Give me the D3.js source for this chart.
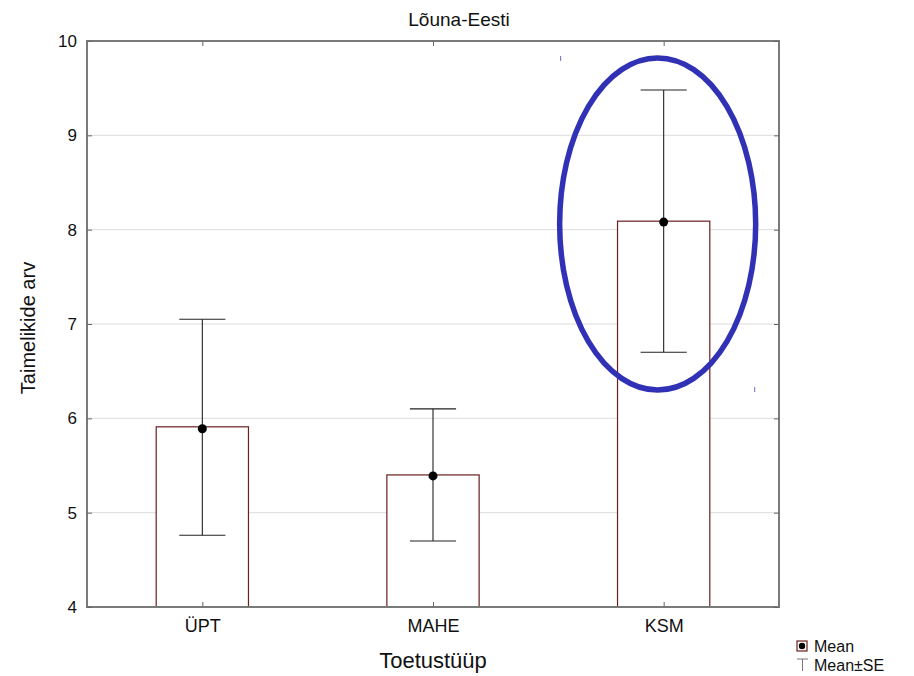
<!DOCTYPE html>
<html>
<head>
<meta charset="utf-8">
<script src="https://cdn.jsdelivr.net/npm/d3@7"></script>
<style>
  html, body { margin: 0; padding: 0; background: #fff; }
  svg { display: block; font-family: "Liberation Sans", Arial, sans-serif; }
</style>
</head>
<body>
<svg id="chart" width="914" height="676"></svg>
<script>
const title = "Lõuna-Eesti";
const categories = ["ÜPT", "MAHE", "KSM"];
const barValues = [5.91, 5.40, 8.09];
const meanValues = [5.89, 5.39, 8.08];
const seUpper = [7.05, 6.10, 9.48];
const seLower = [4.76, 4.70, 6.70];
const yTicks = [4, 5, 6, 7, 8, 9, 10];
const xTitle = "Toetustüüp";
const yTitle = "Taimelikide arv";
const legendLabels = ["Mean", "Mean±SE"];
// highlighted region (annotation ellipse) in data units
const highlightCategory = "KSM";
const highlightRange = [6.3, 9.82];

const svg = d3.select("#chart");
const L = 87, R = 779, T = 41, B = 607;

const x = d3.scalePoint().domain(categories).range([L, R]).padding(0.5);
const y = d3.scaleLinear().domain([4, 10]).range([B, T]);
const step = x.step();
const barW = step * 0.4;
const capW = step * 0.2;

// gridlines
svg.append("g").selectAll("line").data(yTicks.filter(d => d > 4 && d < 10)).join("line")
  .attr("x1", L).attr("x2", R).attr("y1", d => y(d)).attr("y2", d => y(d))
  .attr("stroke", "#dcdcdc").attr("stroke-width", 1);

// bars
svg.append("g").selectAll("rect").data(categories).join("rect")
  .attr("x", d => x(d) - barW / 2)
  .attr("width", barW)
  .attr("y", (d, i) => y(barValues[i]))
  .attr("height", (d, i) => y(4) - y(barValues[i]))
  .attr("fill", "#fff").attr("stroke", "#6a1e1e").attr("stroke-width", 1.2);

// whiskers
const wg = svg.append("g").attr("stroke", "#222").attr("stroke-width", 1.1);
categories.forEach((c, i) => {
  const cx = x(c);
  wg.append("line").attr("x1", cx).attr("x2", cx).attr("y1", y(seUpper[i])).attr("y2", y(seLower[i]));
  wg.append("line").attr("x1", cx - capW / 2).attr("x2", cx + capW / 2).attr("y1", y(seUpper[i])).attr("y2", y(seUpper[i]));
  wg.append("line").attr("x1", cx - capW / 2).attr("x2", cx + capW / 2).attr("y1", y(seLower[i])).attr("y2", y(seLower[i]));
});

// mean points
svg.append("g").selectAll("circle").data(categories).join("circle")
  .attr("cx", d => x(d)).attr("cy", (d, i) => y(meanValues[i]))
  .attr("r", 4.5).attr("fill", "#000");

// frame
svg.append("rect").attr("x", L).attr("y", T).attr("width", R - L).attr("height", B - T)
  .attr("fill", "none").attr("stroke", "#7a7a7a").attr("stroke-width", 2);

// axes
const yAxisL = d3.axisLeft(y).tickValues(yTicks).tickSize(-5).tickPadding(10).tickFormat(d3.format("d"));
const gy = svg.append("g").attr("transform", `translate(${L},0)`).call(yAxisL);
gy.select(".domain").remove();
gy.selectAll(".tick line").attr("stroke", "#666");
gy.selectAll(".tick text").attr("font-size", 17).attr("fill", "#111")
  .attr("font-family", "'Liberation Sans', Arial, sans-serif");

const yAxisR = d3.axisRight(y).tickValues(yTicks).tickSize(-5).tickFormat("");
const gyr = svg.append("g").attr("transform", `translate(${R},0)`).call(yAxisR);
gyr.select(".domain").remove();
gyr.selectAll(".tick line").attr("stroke", "#666");

const xAxisB = d3.axisBottom(x).tickSize(-5).tickPadding(12);
const gx = svg.append("g").attr("transform", `translate(0,${B})`).call(xAxisB);
gx.select(".domain").remove();
gx.selectAll(".tick line").attr("stroke", "#666");
gx.selectAll(".tick text").attr("font-size", 18).attr("fill", "#111")
  .attr("font-family", "'Liberation Sans', Arial, sans-serif");

const xAxisT = d3.axisTop(x).tickSize(-5).tickFormat("");
const gxt = svg.append("g").attr("transform", `translate(0,${T})`).call(xAxisT);
gxt.select(".domain").remove();
gxt.selectAll(".tick line").attr("stroke", "#666");

// titles
svg.append("text").attr("x", 459).attr("y", 26).attr("text-anchor", "middle")
  .attr("font-size", 19).attr("fill", "#111").text(title);
svg.append("text").attr("x", (L + R) / 2).attr("y", 668).attr("text-anchor", "middle")
  .attr("font-size", 22).attr("fill", "#111").text(xTitle);
svg.append("text").attr("transform", `translate(35,${(T + B) / 2 + 4}) rotate(-90)`)
  .attr("text-anchor", "middle").attr("font-size", 20).attr("fill", "#111").text(yTitle);

// annotation ellipse
const ecx = x(highlightCategory) - 6;
const ecy = (y(highlightRange[0]) + y(highlightRange[1])) / 2;
const ery = (y(highlightRange[0]) - y(highlightRange[1])) / 2;
svg.append("ellipse").attr("cx", ecx).attr("cy", ecy).attr("rx", step * 0.425).attr("ry", ery)
  .attr("fill", "none").attr("stroke", "#3131b6").attr("stroke-width", 5.5);
// small stray marks near ellipse
svg.append("line").attr("x1", ecx - step * 0.425 + 1).attr("x2", ecx - step * 0.425 + 1)
  .attr("y1", y(highlightRange[1]) - 2).attr("y2", y(highlightRange[1]) + 3)
  .attr("stroke", "#6a6ad0").attr("stroke-width", 1);
svg.append("line").attr("x1", ecx + step * 0.425 - 1).attr("x2", ecx + step * 0.425 - 1)
  .attr("y1", y(highlightRange[0]) - 3).attr("y2", y(highlightRange[0]) + 2)
  .attr("stroke", "#6a6ad0").attr("stroke-width", 1);

// legend
const lg = svg.append("g");
lg.append("rect").attr("x", 797).attr("y", 641).attr("width", 10).attr("height", 10)
  .attr("fill", "#fff").attr("stroke", "#6a1e1e").attr("stroke-width", 1.2);
lg.append("circle").attr("cx", 802).attr("cy", 646).attr("r", 3.2).attr("fill", "#000");
lg.append("text").attr("x", 814).attr("y", 652).attr("font-size", 16).attr("fill", "#111").text(legendLabels[0]);
lg.append("line").attr("x1", 797).attr("x2", 808).attr("y1", 659).attr("y2", 659).attr("stroke", "#777");
lg.append("line").attr("x1", 802.5).attr("x2", 802.5).attr("y1", 659).attr("y2", 671).attr("stroke", "#777");
lg.append("text").attr("x", 814).attr("y", 671).attr("font-size", 16).attr("fill", "#111").text(legendLabels[1]);
</script>
</body>
</html>
